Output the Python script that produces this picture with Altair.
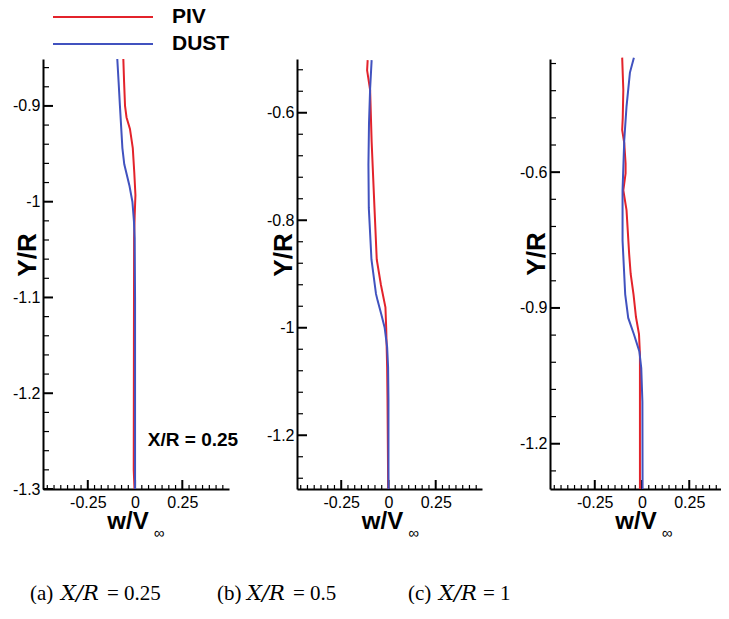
import altair as alt
import numpy as np
import pandas as pd

RED = "#e3232b"
BLUE = "#4152bf"
SANS = "Liberation Sans"
SERIF = "Liberation Serif"
SERIF_IT = "DejaVu Serif"

# ---------------- data ----------------
# (a) X/R = 0.25
a_piv_y = [-0.851, -0.875, -0.900, -0.912, -0.924, -0.944, -0.970, -0.993, -1.015, -1.038, -1.150, -1.280, -1.300]
a_piv_w = [-0.062, -0.058, -0.053, -0.045, -0.027, -0.012, -0.004, 0.002, -0.002, -0.005, -0.006, -0.007, -0.003]
a_dust_y = [-0.851, -0.875, -0.900, -0.944, -0.961, -0.983, -1.000, -1.020, -1.038, -1.100, -1.300]
a_dust_w = [-0.094, -0.087, -0.080, -0.067, -0.057, -0.030, -0.014, -0.006, -0.002, 0.000, 0.000]

# (b) X/R = 0.5
b_piv_y = [-0.502, -0.521, -0.558, -0.654, -0.777, -0.873, -0.920, -0.962, -1.000, -1.073, -1.135, -1.277, -1.300]
b_piv_w = [-0.110, -0.113, -0.097, -0.089, -0.074, -0.062, -0.040, -0.016, -0.012, -0.007, -0.005, -0.002, -0.001]
b_dust_y = [-0.502, -0.555, -0.620, -0.697, -0.777, -0.873, -0.937, -0.950, -0.975, -1.000, -1.036, -1.073, -1.135, -1.300]
b_dust_w = [-0.089, -0.097, -0.103, -0.106, -0.104, -0.090, -0.066, -0.057, -0.038, -0.020, -0.007, -0.002, 0.000, 0.000]

# (c) X/R = 1
c_piv_y = [-0.347, -0.418, -0.480, -0.507, -0.536, -0.581, -0.603, -0.640, -0.684, -0.781, -0.825, -0.870, -0.920, -0.958, -1.003, -1.300]
c_piv_w = [-0.105, -0.099, -0.102, -0.105, -0.094, -0.087, -0.087, -0.099, -0.082, -0.068, -0.060, -0.045, -0.032, -0.016, -0.011, -0.011]
c_dust_y = [-0.347, -0.380, -0.455, -0.529, -0.640, -0.751, -0.870, -0.922, -0.958, -0.996, -1.033, -1.107, -1.300]
c_dust_w = [-0.043, -0.064, -0.082, -0.094, -0.103, -0.103, -0.089, -0.073, -0.043, -0.014, -0.004, 0.002, 0.003]

x_major = [-0.25, 0, 0.25]
a_y_major = [-1.3, -1.2, -1.1, -1, -0.9]
b_y_major = [-1.2, -1, -0.8, -0.6]
c_y_major = [-1.2, -0.9, -0.6]
captions = [("(a)", "X/R", "= 0.25"), ("(b)", "X/R", "= 0.5"), ("(c)", "X/R", "= 1")]

H = 430


def minor_ticks(lo, hi, step, majors):
    n0 = int(np.ceil(lo / step - 1e-6))
    n1 = int(np.floor(hi / step + 1e-6))
    vals = [round(k * step, 4) for k in range(n0, n1 + 1)]
    return [v for v in vals if all(abs(v - m) > 1e-6 for m in majors)]


def txt(t, x, y, size, weight="normal", style="normal", font=SANS, align="center", angle=0):
    return alt.Chart(pd.DataFrame({"t": [t]})).mark_text(
        text=t, font=font, fontSize=size, fontWeight=weight, fontStyle=style,
        align=align, baseline="middle", angle=angle, color="black"
    ).encode(x=alt.value(x), y=alt.value(y))


def panel(piv_y, piv_w, dust_y, dust_w, y_dom, y_major, y_step, x_dom, W, extras):
    xs = alt.Scale(domain=x_dom, nice=False, zero=False)
    ys = alt.Scale(domain=y_dom, nice=False, zero=False)
    xaxis = alt.Axis(values=x_major, labelExpr="'' + datum.value", ticks=False, grid=False,
                     domainColor="black", domainWidth=2, labelFont=SANS, labelFontSize=16,
                     labelColor="black", labelPadding=5, labelOverlap=False, labelFlush=False,
                     title=None)
    yaxis = alt.Axis(values=y_major, labelExpr="'' + datum.value", ticks=False, grid=False,
                     domainColor="black", domainWidth=2, labelFont=SANS, labelFontSize=16,
                     labelColor="black", labelPadding=3, labelOverlap=False, labelFlush=False,
                     title=None)
    X = alt.X("w:Q", scale=xs, axis=xaxis)
    Y = alt.Y("y:Q", scale=ys, axis=yaxis)

    piv = alt.Chart(pd.DataFrame({"w": piv_w, "y": piv_y, "i": range(len(piv_y))})).mark_line(
        strokeWidth=2, color=RED).encode(x=X, y=Y, order="i:Q")
    dust = alt.Chart(pd.DataFrame({"w": dust_w, "y": dust_y, "i": range(len(dust_y))})).mark_line(
        strokeWidth=2, color=BLUE).encode(x=X, y=Y, order="i:Q")

    y_min = minor_ticks(y_dom[0], y_dom[1], y_step, y_major)
    x_min = minor_ticks(x_dom[0], x_dom[1], 0.25 / 7, x_major)
    ymaj = alt.Chart(pd.DataFrame({"y": y_major})).mark_rule(color="black", strokeWidth=2).encode(
        y=Y, x=alt.value(0), x2=alt.value(10))
    ymin = alt.Chart(pd.DataFrame({"y": y_min})).mark_rule(color="black", strokeWidth=1.2).encode(
        y=Y, x=alt.value(0), x2=alt.value(6))
    xmaj = alt.Chart(pd.DataFrame({"w": x_major})).mark_rule(color="black", strokeWidth=2).encode(
        x=X, y=alt.value(H), y2=alt.value(H - 9))
    xmin = alt.Chart(pd.DataFrame({"w": x_min})).mark_rule(color="black", strokeWidth=1.2).encode(
        x=X, y=alt.value(H), y2=alt.value(H - 4))

    return alt.layer(ymaj, ymin, xmaj, xmin, piv, dust, *extras).properties(width=W, height=H)


def common_texts(ytx, yty, wx, cap, capx):
    out = [
        txt("Y/R", ytx, yty, 26, weight="bold", angle=270),
        txt("w/V", wx, H + 33, 24, weight="bold"),
        txt("\u221e", wx + 31, H + 44, 15),
        txt(cap[0], capx[0], H + 105, 21, font=SERIF, align="left"),
        txt(cap[1], capx[1] + 2, H + 105, 21, font=SERIF_IT, style="italic", align="left"),
        txt(cap[2], capx[2], H + 105, 21, font=SERIF, align="left"),
    ]
    return out


legend = [
    alt.Chart(pd.DataFrame({"s": ["PIV"]})).mark_rule(color=RED, strokeWidth=2).encode(
        x=alt.value(10), x2=alt.value(110), y=alt.value(-42)),
    alt.Chart(pd.DataFrame({"s": ["DUST"]})).mark_rule(color=BLUE, strokeWidth=2).encode(
        x=alt.value(10), x2=alt.value(110), y=alt.value(-15)),
    txt("PIV", 129, -42, 21, weight="bold", align="left"),
    txt("DUST", 129, -15, 21, weight="bold", align="left"),
]

p1 = panel(a_piv_y, a_piv_w, a_dust_y, a_dust_w, [-1.3, -0.851], a_y_major, 0.02,
           [-0.487, 0.497], 186,
           common_texts(-15, 196, 85, captions[0], (-13, 16, 64)) + legend
           + [txt("X/R = 0.25", 150, 381, 19, weight="bold")])
p2 = panel(b_piv_y, b_piv_w, b_dust_y, b_dust_w, [-1.3, -0.5], b_y_major, 0.04,
           [-0.484, 0.495], 185,
           common_texts(-13.5, 196, 85.5, captions[1], (-80, -52, -4)))
p3 = panel(c_piv_y, c_piv_w, c_dust_y, c_dust_w, [-1.3, -0.35], c_y_major, 0.06,
           [-0.487, 0.418], 171,
           common_texts(-13, 195, 86, captions[2], (-142, -113, -67)))

chart = alt.hconcat(p1, p2, p3, spacing=68, bounds="flush").properties(
    padding={"left": 4, "top": -2, "right": 0, "bottom": 0}
).configure_view(strokeWidth=0)

chart.save("out.html", embed_options={"renderer": "svg", "actions": False})
